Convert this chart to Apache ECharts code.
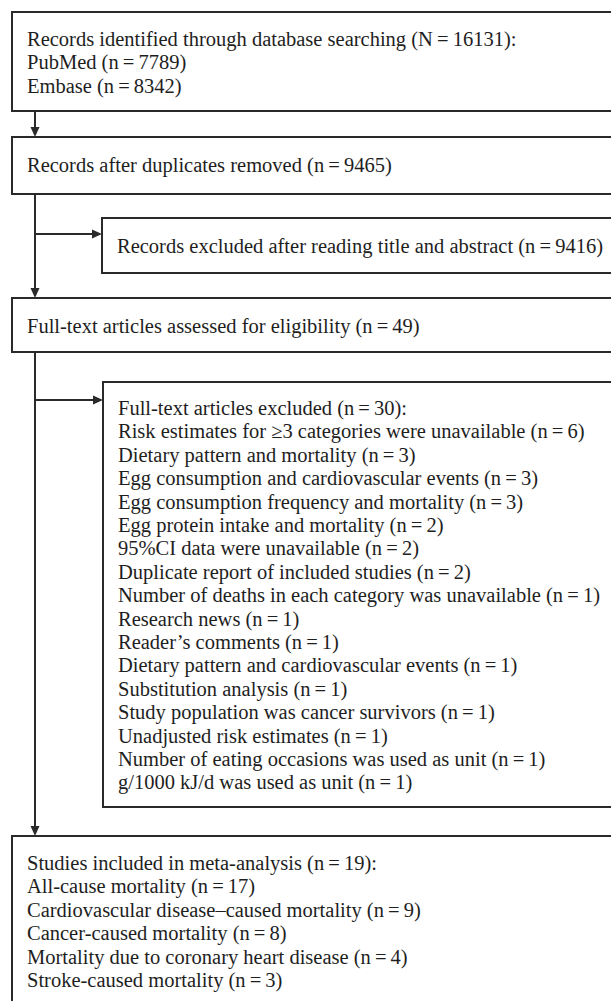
<!DOCTYPE html>
<html>
<head>
<meta charset="utf-8">
<script src="https://cdn.jsdelivr.net/npm/echarts@6/dist/echarts.min.js"></script>
<style>
  html, body { margin: 0; padding: 0; background: #fff; }
  #chart { width: 611px; height: 1001px; }
</style>
</head>
<body>
<div id="chart"></div>
<script>
// counts
const sourceNames = ['PubMed', 'Embase'];
const sourceCounts = [7789, 8342];
const identifiedTotal = 16131;
const afterDuplicates = 9465;
const excludedByTitle = 9416;
const assessedFullText = 49;
const excludedFullText = 30;
const exclusionReasons = [
  'Risk estimates for \u22653 categories were unavailable',
  'Dietary pattern and mortality',
  'Egg consumption and cardiovascular events',
  'Egg consumption frequency and mortality',
  'Egg protein intake and mortality',
  '95%CI data were unavailable',
  'Duplicate report of included studies',
  'Number of deaths in each category was unavailable',
  'Research news',
  'Reader\u2019s comments',
  'Dietary pattern and cardiovascular events',
  'Substitution analysis',
  'Study population was cancer survivors',
  'Unadjusted risk estimates',
  'Number of eating occasions was used as unit',
  'g/1000 kJ/d was used as unit'
];
const exclusionCounts = [6, 3, 3, 3, 2, 2, 2, 1, 1, 1, 1, 1, 1, 1, 1, 1];
const includedTotal = 19;
const outcomeNames = [
  'All-cause mortality',
  'Cardiovascular disease\u2013caused mortality',
  'Cancer-caused mortality',
  'Mortality due to coronary heart disease',
  'Stroke-caused mortality'
];
const outcomeCounts = [17, 9, 8, 4, 3];

const n = (v, sym) => '(' + (sym || 'n') + '\u2009=\u2009' + v + ')';

// text of each box, top to bottom
const boxText = [
  ['Records identified through database searching ' + n(identifiedTotal, 'N') + ':']
    .concat(sourceNames.map((s, i) => s + ' ' + n(sourceCounts[i]))),
  ['Records after duplicates removed ' + n(afterDuplicates)],
  ['Records excluded after reading title and abstract ' + n(excludedByTitle)],
  ['Full-text articles assessed for eligibility ' + n(assessedFullText)],
  ['Full-text articles excluded ' + n(excludedFullText) + ':']
    .concat(exclusionReasons.map((s, i) => s + ' ' + n(exclusionCounts[i]))),
  ['Studies included in meta-analysis ' + n(includedTotal) + ':']
    .concat(outcomeNames.map((s, i) => s + ' ' + n(outcomeCounts[i])))
];

// layout in pixel units of the hidden axes: [left, top, right, bottom, textX, firstLineY]
const boxLayout = [
  [12, 12, 640, 111, 27, 39],
  [12, 137, 640, 194, 27, 165],
  [102, 218, 640, 273, 117, 246],
  [12, 298, 640, 352, 27, 326],
  [103, 382, 640, 807, 118, 408],
  [12, 836, 640, 1020, 27, 863]
];
const lineStep = 23.4;

// connectors: [x1, y1, x2, y2], arrowhead at the end
const links = [
  [35, 111, 35, 137],
  [35, 194, 35, 298],
  [35, 234, 102, 234],
  [35, 352, 35, 836],
  [35, 400, 103, 400]
];

const ink = '#2a2a2a';
const font = '"Liberation Serif", "Times New Roman", serif';

const chart = echarts.init(document.getElementById('chart'), null, { renderer: 'svg' });

const option = {
  animation: false,
  backgroundColor: '#fff',
  grid: { left: 0, right: 0, top: 0, bottom: 0 },
  xAxis: { type: 'value', min: 0, max: 611, show: false },
  yAxis: { type: 'value', min: 0, max: 1001, inverse: true, show: false },
  series: [
    {
      type: 'custom',
      coordinateSystem: 'cartesian2d',
      clip: true,
      data: boxLayout.map((b, i) => [i]),
      renderItem: function (params, api) {
        const i = api.value(0);
        const b = boxLayout[i];
        const p0 = api.coord([b[0], b[1]]);
        const p1 = api.coord([b[2], b[3]]);
        const children = [{
          type: 'rect',
          shape: { x: p0[0], y: p0[1], width: p1[0] - p0[0], height: p1[1] - p0[1] },
          style: { fill: '#fff', stroke: ink, lineWidth: 2 }
        }];
        boxText[i].forEach(function (t, k) {
          const p = api.coord([b[4], b[5] + k * lineStep]);
          children.push({
            type: 'text',
            x: p[0],
            y: p[1],
            style: {
              text: t,
              fontFamily: font,
              fontSize: 20.5,
              fill: '#1e1e1e',
              align: 'left',
              verticalAlign: 'middle'
            }
          });
        });
        return { type: 'group', children: children };
      }
    },
    {
      type: 'custom',
      coordinateSystem: 'cartesian2d',
      data: links.map((l, i) => [i]),
      renderItem: function (params, api) {
        const l = links[api.value(0)];
        const a = api.coord([l[0], l[1]]);
        const b = api.coord([l[2], l[3]]);
        const dx = b[0] - a[0], dy = b[1] - a[1];
        const len = Math.sqrt(dx * dx + dy * dy);
        const ux = dx / len, uy = dy / len;
        const headLen = 10, headHalf = 4.5;
        const base = [b[0] - ux * headLen, b[1] - uy * headLen];
        return {
          type: 'group',
          children: [
            {
              type: 'line',
              shape: { x1: a[0], y1: a[1], x2: base[0], y2: base[1] },
              style: { stroke: ink, lineWidth: 2 }
            },
            {
              type: 'polygon',
              shape: {
                points: [
                  [b[0], b[1]],
                  [base[0] - uy * headHalf, base[1] + ux * headHalf],
                  [base[0] + uy * headHalf, base[1] - ux * headHalf]
                ]
              },
              style: { fill: ink }
            }
          ]
        };
      }
    }
  ]
};

chart.setOption(option);
</script>
</body>
</html>
